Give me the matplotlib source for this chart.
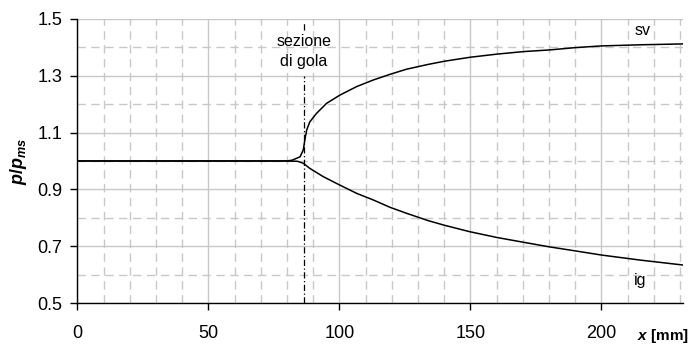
import matplotlib
matplotlib.use("Agg")
import matplotlib.pyplot as plt
from matplotlib.ticker import MultipleLocator

plt.rcParams['font.family'] = ['Liberation Sans', 'DejaVu Sans']
plt.rcParams['mathtext.fontset'] = 'custom'
plt.rcParams['mathtext.it'] = 'Liberation Sans:italic:bold'
plt.rcParams['mathtext.rm'] = 'Liberation Sans:bold'

# data (x in mm, p/pms)
x_sv = [0, 10, 20, 30, 40, 50, 60, 70, 80, 82, 85.0, 86.2, 86.8, 87.5, 88.7, 91.3, 95.1,
        100.2, 106.6, 112.9, 119.3, 125.6, 133.9, 140, 149.8, 160, 170.2, 180.4, 190, 200, 215, 231]
p_sv = [1.0, 1.0, 1.0, 1.0, 1.0, 1.0, 1.0, 1.0, 1.0, 1.003, 1.015, 1.039, 1.074, 1.109, 1.138, 1.168, 1.203,
        1.232, 1.262, 1.285, 1.305, 1.323, 1.340, 1.351, 1.365, 1.376, 1.385, 1.391, 1.399, 1.405, 1.409, 1.412]

x_ig = [0, 10, 20, 30, 40, 50, 60, 70, 80, 84, 86.2, 88.7, 93.8, 100.2, 106.6, 112.9, 119.3,
        125.6, 133.9, 140, 149.8, 160, 170.2, 180, 191.8, 200, 215, 231]
p_ig = [1.0, 1.0, 1.0, 1.0, 1.0, 1.0, 1.0, 1.0, 1.0, 0.999, 0.992, 0.974, 0.945, 0.915, 0.886, 0.863, 0.837,
        0.816, 0.790, 0.774, 0.751, 0.731, 0.714, 0.698, 0.681, 0.669, 0.651, 0.634]

x_throat = 86.5
throat_label = "sezione\ndi gola"
series_labels = ["sv", "ig"]
y_ticks = [0.5, 0.7, 0.9, 1.1, 1.3, 1.5]
x_ticks = [0, 50, 100, 150, 200]

fig = plt.figure(figsize=(6.91, 3.44), dpi=100)
ax = fig.add_axes([0.112, 0.119, 0.876, 0.826])

ax.set_xlim(0, 231)
ax.set_ylim(0.5, 1.5)
ax.set_xticks(x_ticks)
ax.set_yticks(y_ticks)
ax.set_yticklabels([f"{v:.1f}" for v in y_ticks])
ax.xaxis.set_minor_locator(MultipleLocator(10))
ax.yaxis.set_minor_locator(MultipleLocator(0.1))

grid_col = '#c8c8c8'
ax.grid(which='major', color=grid_col, linestyle='-', linewidth=1.0, zorder=0)
ax.grid(which='minor', color=grid_col, linestyle=(0, (6, 4)), linewidth=1.0, zorder=0)
ax.set_axisbelow(True)

for s in ['top', 'right']:
    ax.spines[s].set_visible(False)
for s in ['left', 'bottom']:
    ax.spines[s].set_color('black')
    ax.spines[s].set_linewidth(1.0)

ax.tick_params(which='major', direction='out', length=5, width=1, labelsize=13, color='black')
ax.tick_params(axis='x', which='major', pad=11)
ax.tick_params(axis='y', which='major', pad=6)
ax.tick_params(which='minor', length=0)

ax.plot(x_sv, p_sv, color='black', linewidth=1.1, zorder=3)
ax.plot(x_ig, p_ig, color='black', linewidth=1.1, zorder=3)

# throat line (interrupted by label)
ax.plot([x_throat, x_throat], [0.5, 1.30], color='black', linewidth=0.9,
        linestyle=(0, (5, 2, 1, 2)), zorder=2)
ax.plot([x_throat, x_throat], [1.46, 1.49], color='black', linewidth=0.9,
        linestyle=(0, (5, 2, 1, 2)), zorder=2)
ax.text(x_throat, 1.386, throat_label, ha='center', va='center', fontsize=11.5,
        linespacing=1.45)

ax.text(215.7, 1.461, series_labels[0], ha='center', va='center', fontsize=11.5)
ax.text(214.6, 0.581, series_labels[1], ha='center', va='center', fontsize=11.5)

ax.set_ylabel(r'$p/p_{ms}$', fontsize=13)
ax.yaxis.set_label_coords(-0.080, 0.5)

fig.text(663 / 691, 1 - 336 / 344, r'$x$ [mm]', ha='center', va='center',
         fontsize=11, fontweight='bold')

fig.savefig('out.png', dpi=100)
